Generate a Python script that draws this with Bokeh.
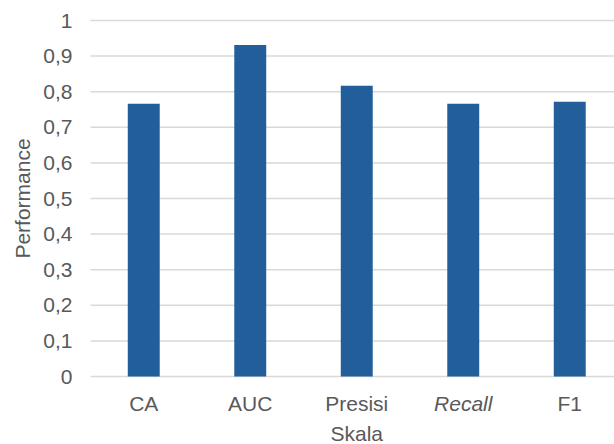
import math

from bokeh.plotting import figure
from bokeh.models import Range1d, ColumnDataSource
from bokeh.core.properties import value
from bokeh.embed import file_html
from bokeh.resources import INLINE

# Evaluation scores per metric
categories = ["CA", "AUC", "Presisi", "Recall", "F1"]
scores = [0.766, 0.931, 0.817, 0.766, 0.772]
y_ticks = [0.0, 0.1, 0.2, 0.3, 0.4, 0.5, 0.6, 0.7, 0.8, 0.9, 1.0]
y_tick_labels = ["0", "0,1", "0,2", "0,3", "0,4", "0,5", "0,6", "0,7", "0,8", "0,9", "1"]
italic_categories = ["Recall"]
x_title = "Skala"
y_title = "Performance"

FONT = "Liberation Sans"
FONT_SIZE = "21px"
TEXT_COLOR = "#595959"
BAR_COLOR = "#215e9a"
GRID_COLOR = "#d9d9d9"

# Canvas layout (pixels): the whole canvas is one frame, the value axis
# runs from 0 at ZERO_Y up to 1 at TOP_Y, categories start at PLOT_LEFT.
W, H = 614, 444
PLOT_LEFT = 90
STEP = 106.5          # width of one category slot
TOP_Y, ZERO_Y = 20, 376
PX_PER_UNIT = (ZERO_Y - TOP_Y) / 1.0

x_range = Range1d(-PLOT_LEFT / STEP, (W - PLOT_LEFT) / STEP)
y_range = Range1d(-(H - ZERO_Y) / PX_PER_UNIT, ZERO_Y / PX_PER_UNIT)

p = figure(
    width=W, height=H, x_range=x_range, y_range=y_range,
    output_backend="svg", toolbar_location=None,
    x_axis_location=None, y_axis_location=None,
    min_border=0,
)
p.outline_line_color = None
p.background_fill_color = "white"
p.border_fill_color = "white"
p.xgrid.visible = False
p.ygrid.visible = False

n = len(categories)
positions = [i + 0.5 for i in range(n)]

# horizontal gridlines across the category area
grid = ColumnDataSource(dict(y=y_ticks, x0=[0] * len(y_ticks), x1=[n] * len(y_ticks)))
p.segment(x0="x0", x1="x1", y0="y", y1="y", source=grid,
          line_color=GRID_COLOR, line_width=1.5)

# bars
bars = ColumnDataSource(dict(x=positions, top=scores))
p.vbar(x="x", top="top", bottom=0, width=0.30, source=bars,
       fill_color=BAR_COLOR, line_color=None)

text_kw = dict(text_font=value(FONT), text_font_size=value(FONT_SIZE),
               text_color=TEXT_COLOR, text_baseline="middle")

# value-axis tick labels
ticks = ColumnDataSource(dict(x=[0] * len(y_ticks), y=y_ticks, text=y_tick_labels))
p.text(x="x", y="y", text="text", source=ticks, x_offset=-18, y_offset=0,
       text_align="right", **text_kw)

# category labels (some set in italics)
cats = ColumnDataSource(dict(
    x=positions, y=[0] * n, text=categories,
    style=["italic" if c in italic_categories else "normal" for c in categories],
))
p.text(x="x", y="y", text="text", source=cats, y_offset=27,
       text_font_style="style", text_align="center", **text_kw)

# axis titles
p.text(x=[n / 2], y=[0], text=[x_title], y_offset=57,
       text_align="center", **text_kw)
p.text(x=[0], y=[0.5], text=[y_title], x_offset=-68, angle=math.pi / 2,
       text_align="center", **text_kw)

open("out.html", "w").write(file_html(p, INLINE))
